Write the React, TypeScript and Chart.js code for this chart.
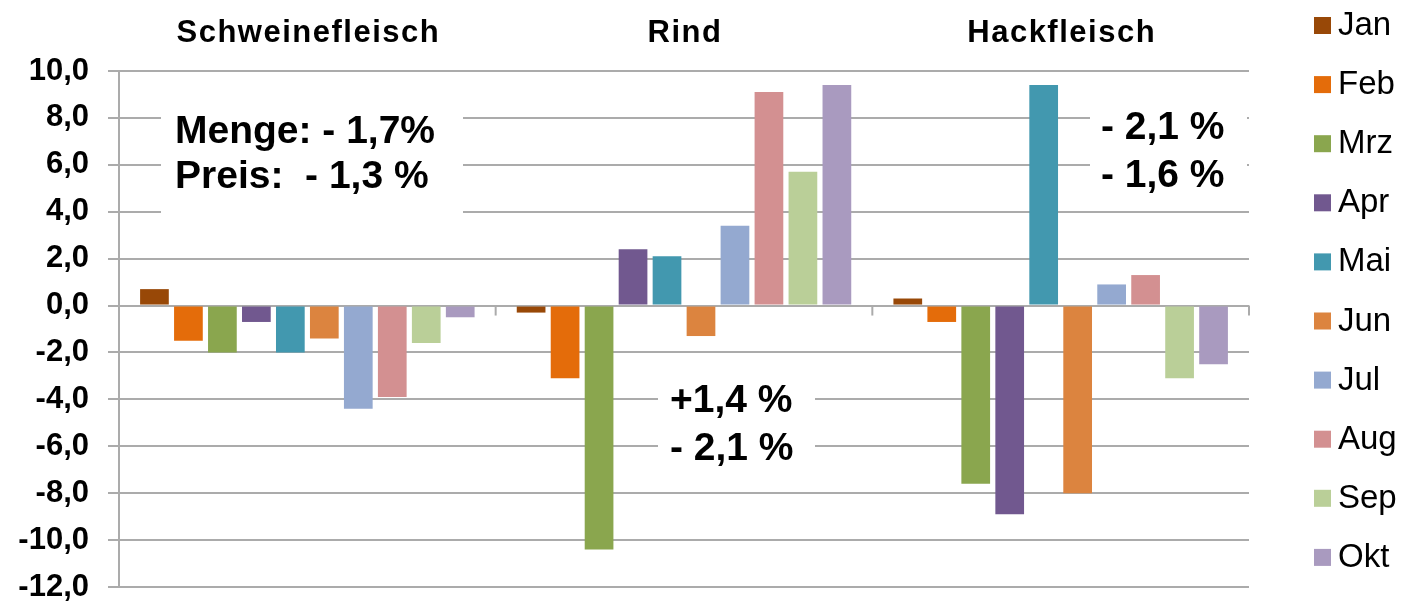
import React, { useEffect, useRef } from 'react';
import { Chart, registerables } from 'chart.js';

Chart.register(...registerables);

// Product groups along the category axis
const categories = ['Schweinefleisch', 'Rind', 'Hackfleisch'];

// Monthly change in % per product group
const months = ['Jan', 'Feb', 'Mrz', 'Apr', 'Mai', 'Jun', 'Jul', 'Aug', 'Sep', 'Okt'];
const jan = [0.7, -0.3, 0.3];
const feb = [-1.5, -3.1, -0.7];
const mrz = [-2.0, -10.4, -7.6];
const apr = [-0.7, 2.4, -8.9];
const mai = [-2.0, 2.1, 9.4];
const jun = [-1.4, -1.3, -8.0];
const jul = [-4.4, 3.4, 0.9];
const aug = [-3.9, 9.1, 1.3];
const sep = [-1.6, 5.7, -3.1];
const okt = [-0.5, 9.4, -2.5];
const seriesValues = [jan, feb, mrz, apr, mai, jun, jul, aug, sep, okt];

const monthColors = [
  '#984807', '#E46C0A', '#8AA64E', '#71588F', '#4298AF',
  '#DC843F', '#94A9D0', '#D39091', '#BACF98', '#A99ABF',
];

// Value axis
const yMin = -12;
const yMax = 10;
const yStep = 2;

// Summary notes (Menge / Preis) per product group
const notesSchwein = ['Menge: - 1,7%', 'Preis:  - 1,3 %'];
const notesRind = ['+1,4 %', '- 2,1 %'];
const notesHack = ['- 2,1 %', '- 1,6 %'];

const FONT = '"Liberation Sans", Arial, sans-serif';
const GRID = '#ababab';

const notesPlugin = {
  id: 'notes',
  beforeDatasetsDraw(chart: any) {
    const ctx = chart.ctx;
    const boxes = [
      { lines: notesSchwein, box: [161, 95, 302, 135], x: 175, y: [143, 188] },
      { lines: notesRind, box: [658, 370, 157, 100], x: 670, y: [412, 460] },
      { lines: notesHack, box: [1090, 95, 157, 98], x: 1101, y: [139, 187] },
    ];
    ctx.save();
    boxes.forEach((b) => {
      ctx.fillStyle = '#ffffff';
      ctx.fillRect(b.box[0], b.box[1], b.box[2], b.box[3]);
      ctx.fillStyle = '#000000';
      ctx.font = `bold 39px ${FONT}`;
      ctx.textAlign = 'left';
      ctx.textBaseline = 'alphabetic';
      b.lines.forEach((t, i) => ctx.fillText(t, b.x, b.y[i]));
    });

    // small tick marks on the zero line between the product groups
    const yScale = chart.scales.y;
    const area = chart.chartArea;
    const y0 = yScale.getPixelForValue(0);
    ctx.strokeStyle = GRID;
    ctx.lineWidth = 2;
    for (let i = 1; i <= categories.length; i++) {
      const x = area.left + (i * (area.right - area.left)) / categories.length;
      ctx.beginPath();
      ctx.moveTo(x, y0);
      ctx.lineTo(x, y0 + 10);
      ctx.stroke();
    }
    ctx.restore();
  },
  afterDraw(chart: any) {
    const ctx = chart.ctx;
    const xScale = chart.scales.x;
    ctx.save();
    // group titles above the plot
    ctx.fillStyle = '#000000';
    ctx.font = `bold 31px ${FONT}`;
    (ctx as any).letterSpacing = '1.5px';
    ctx.textAlign = 'center';
    ctx.textBaseline = 'alphabetic';
    categories.forEach((c, i) => {
      ctx.fillText(c, xScale.getPixelForValue(i) + 1, 42);
    });
    (ctx as any).letterSpacing = '0px';

    // legend on the right
    ctx.font = `33px ${FONT}`;
    ctx.textAlign = 'left';
    chart.data.datasets.forEach((ds: any, i: number) => {
      const cy = 25.5 + i * 59.1;
      ctx.fillStyle = ds.backgroundColor;
      ctx.fillRect(1314, cy - 8.5, 17, 17);
      ctx.fillStyle = '#000000';
      ctx.fillText(ds.label, 1338, cy + 9.5);
    });
    ctx.restore();
  },
};

export default function App() {
  const canvasRef = useRef<HTMLCanvasElement | null>(null);

  useEffect(() => {
    document.body.style.margin = '0';
    const canvas = canvasRef.current;
    if (!canvas) return;
    const chart = new Chart(canvas, {
      type: 'bar',
      data: {
        labels: categories,
        datasets: months.map((m, i) => ({
          label: m,
          data: seriesValues[i],
          backgroundColor: monthColors[i],
          borderWidth: 0,
          barPercentage: 0.845,
          categoryPercentage: 0.902,
        })),
      },
      options: {
        responsive: false,
        animation: false,
        devicePixelRatio: 1,
        layout: { padding: { top: 71, right: 152, bottom: 18, left: 0 } },
        plugins: {
          legend: { display: false },
          tooltip: { enabled: false },
        },
        scales: {
          x: {
            type: 'category',
            display: false,
            grid: { display: false },
          },
          y: {
            min: yMin,
            max: yMax,
            afterFit: (scale: any) => {
              scale.width = 119;
              scale.paddingTop = 0;
              scale.paddingBottom = 0;
            },
            ticks: {
              stepSize: yStep,
              padding: 19,
              color: '#000000',
              font: { family: FONT, size: 31, weight: 'bold', lineHeight: 1 },
              callback: (v: any) => Number(v).toFixed(1).replace('.', ','),
            },
            grid: {
              color: GRID,
              lineWidth: 2,
              tickLength: 11,
              drawTicks: true,
            },
            border: { display: true, color: GRID, width: 2 },
          },
        },
      },
      plugins: [notesPlugin],
    });
    return () => chart.destroy();
  }, []);

  return (
    <div style={{ position: 'absolute', left: 0, top: 0, width: 1401, height: 605, background: '#ffffff' }}>
      <canvas ref={canvasRef} width={1401} height={605} />
    </div>
  );
}
